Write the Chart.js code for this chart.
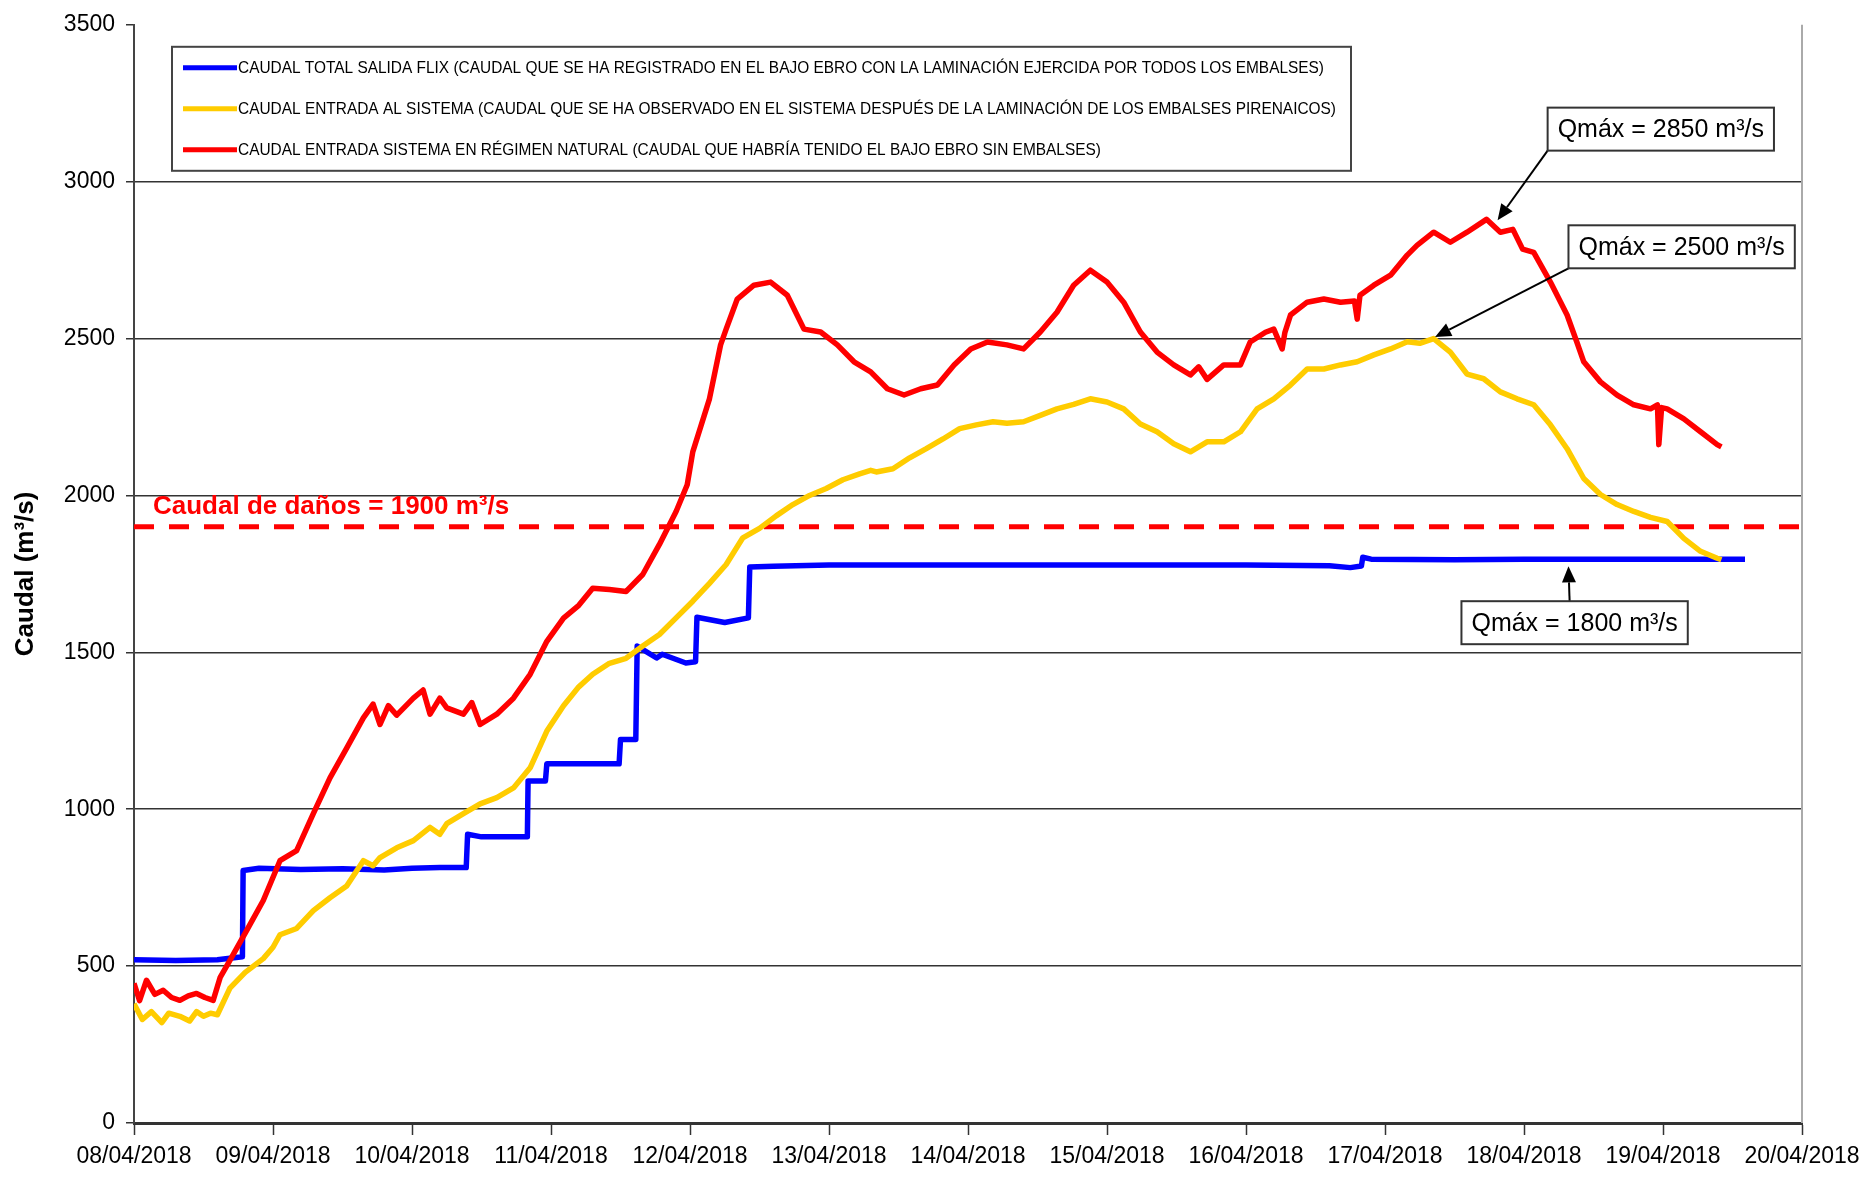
<!DOCTYPE html>
<html>
<head>
<meta charset="utf-8">
<script src="https://cdn.jsdelivr.net/npm/chart.js@4.4.0/dist/chart.umd.min.js"></script>
<style>
  html, body { margin: 0; padding: 0; background: #fff; }
</style>
</head>
<body>
<canvas id="chart" width="1873" height="1182"></canvas>
<script>
// --- DATA (x = days since 08/04/2018 00:00) ---
const dateLabels = ['08/04/2018', '09/04/2018', '10/04/2018', '11/04/2018', '12/04/2018', '13/04/2018',
  '14/04/2018', '15/04/2018', '16/04/2018', '17/04/2018', '18/04/2018', '19/04/2018', '20/04/2018'];

const seriesNames = [
  'CAUDAL TOTAL SALIDA FLIX (CAUDAL QUE SE HA REGISTRADO EN EL BAJO EBRO CON LA LAMINACIÓN EJERCIDA POR TODOS LOS EMBALSES)',
  'CAUDAL ENTRADA AL SISTEMA (CAUDAL QUE SE HA OBSERVADO EN EL SISTEMA DESPUÉS DE LA LAMINACIÓN DE LOS EMBALSES PIRENAICOS)',
  'CAUDAL ENTRADA SISTEMA EN RÉGIMEN NATURAL (CAUDAL QUE HABRÍA TENIDO EL BAJO EBRO SIN EMBALSES)'
];

const flixDays = [0, 0.3, 0.6, 0.78, 0.785, 0.9, 1.2, 1.5, 1.8, 2.0, 2.2, 2.39, 2.40, 2.5, 2.83, 2.835, 2.96, 2.97,
  3.2, 3.49, 3.50, 3.61, 3.62, 3.76, 3.8, 3.97, 4.04, 4.05, 4.25, 4.42, 4.43, 4.6, 5.0, 6.0, 7.0, 8.0, 8.6, 8.75,
  8.83, 8.84, 8.9, 9.5, 10.0, 11.0, 11.59];
const flixValues = [520, 518, 520, 530, 805, 812, 808, 810, 806, 812, 814, 814, 920, 912, 912, 1090, 1090, 1145,
  1145, 1145, 1222, 1222, 1520, 1482, 1494, 1466, 1470, 1612, 1595, 1610, 1772, 1774, 1778, 1778, 1778, 1778, 1776, 1770,
  1775, 1803, 1797, 1795, 1797, 1797, 1797];

const entradaDays = [0, 0.06, 0.125, 0.2, 0.25, 0.33, 0.4, 0.45, 0.5, 0.55, 0.6, 0.69, 0.8, 0.93, 1.0, 1.05, 1.17, 1.29,
  1.41, 1.53, 1.65, 1.72, 1.77, 1.89, 2.01, 2.13, 2.2, 2.25, 2.37, 2.49, 2.61, 2.73, 2.85, 2.97, 3.09, 3.2, 3.3, 3.42, 3.54,
  3.66, 3.78, 3.9, 4.02, 4.14, 4.26, 4.38, 4.5, 4.62, 4.74, 4.86, 4.98, 5.1, 5.22, 5.3, 5.34, 5.46, 5.58, 5.7, 5.82, 5.94,
  6.06, 6.18, 6.28, 6.4, 6.52, 6.64, 6.76, 6.88, 7.0, 7.12, 7.24, 7.36, 7.48, 7.6, 7.72, 7.84, 7.96, 8.08, 8.2,
  8.32, 8.44, 8.56, 8.68, 8.8, 8.92, 9.04, 9.16, 9.25, 9.35, 9.47, 9.59, 9.71, 9.83, 9.95, 10.07, 10.19, 10.31,
  10.43, 10.55, 10.67, 10.79, 10.91, 11.03, 11.15, 11.27, 11.39, 11.42];
const entradaValues = [380, 330, 355, 320, 350, 340, 325, 355, 340, 350, 345, 430, 480, 524, 560, 600, 620, 677,
  718, 755, 836, 820, 846, 877, 900, 942, 920, 954, 986, 1017, 1037, 1068, 1132, 1249, 1330, 1390, 1430, 1465, 1481,
  1520, 1557, 1610, 1663, 1720, 1780, 1865, 1895, 1935, 1971, 2000, 2022, 2050, 2069, 2080, 2075, 2085, 2120, 2149, 2180, 2213,
  2225, 2235, 2230, 2235, 2255, 2276, 2290, 2308, 2298, 2276, 2228, 2203, 2165, 2139, 2171, 2171, 2203, 2276, 2308,
  2352, 2403, 2403, 2416, 2426, 2448, 2467, 2490, 2485, 2500, 2457, 2387, 2372, 2330, 2308, 2289, 2225, 2149,
  2054, 2003, 1971, 1949, 1930, 1917, 1863, 1822, 1800, 1795];

const naturalDays = [0, 0.04, 0.09, 0.15, 0.21, 0.27, 0.33, 0.39, 0.45, 0.51, 0.57, 0.62, 0.69, 0.81, 0.93, 1.05,
  1.17, 1.29, 1.41, 1.53, 1.65, 1.72, 1.77, 1.83, 1.89, 2.01, 2.08, 2.13, 2.2, 2.25, 2.37, 2.43, 2.49, 2.61, 2.73, 2.85,
  2.97, 3.09, 3.2, 3.3, 3.42, 3.54, 3.66, 3.78, 3.9, 3.98, 4.02, 4.14, 4.22, 4.26, 4.34, 4.46, 4.58, 4.7, 4.82, 4.94,
  5.06, 5.18, 5.3, 5.42, 5.54, 5.66, 5.78, 5.9, 6.02, 6.14, 6.28, 6.4, 6.52, 6.64, 6.76, 6.88, 7.0, 7.12, 7.24, 7.36,
  7.48, 7.6, 7.66, 7.72, 7.84, 7.96, 8.03, 8.14, 8.2, 8.26, 8.28, 8.32, 8.44, 8.56, 8.68, 8.78, 8.8, 8.82, 8.92, 9.04,
  9.16, 9.23, 9.35, 9.47, 9.59, 9.73, 9.83, 9.92, 9.99, 10.07, 10.19, 10.31, 10.38, 10.43, 10.55, 10.67, 10.79, 10.91,
  10.96, 10.97, 10.99, 11.03, 11.15, 11.27, 11.39, 11.42];
const naturalValues = [445, 390, 455, 410, 423, 400, 391, 405, 413, 400, 391, 464, 518, 613, 709, 836,
  868, 986, 1100, 1195, 1291, 1335, 1270, 1330, 1300, 1354, 1380, 1303, 1354, 1323, 1303, 1340, 1270, 1303, 1354, 1430,
  1535, 1609, 1650, 1704, 1700, 1694, 1748, 1844, 1949, 2034, 2139, 2308, 2480, 2530, 2626, 2670, 2680, 2638, 2530, 2521,
  2480, 2426, 2394, 2340, 2320, 2340, 2352, 2416, 2467, 2489, 2480, 2467, 2521, 2584, 2670, 2718, 2680, 2616, 2521, 2457,
  2416, 2384, 2410, 2370, 2416, 2416, 2489, 2520, 2530, 2467, 2520, 2575, 2616, 2626, 2616, 2620, 2562, 2638, 2670, 2702,
  2766, 2797, 2839, 2807, 2839, 2880, 2839, 2848, 2785, 2775, 2680, 2575, 2489, 2426, 2362, 2320, 2289, 2276,
  2289, 2162, 2280, 2276, 2244, 2203, 2162, 2155];

const damageFlow = 1900;

// --- HELPERS ---
const toPoints = (days, values) => days.map((d, i) => ({ x: d, y: values[i] }));

const FONT = '"Liberation Sans", Arial, sans-serif';
Chart.defaults.font.family = FONT;
Chart.defaults.color = '#000';

// annotation boxes: tip = arrow point in data units, box = top-left corner in data units
const callouts = [
  { text: 'Qmáx = 2850 m³/s', box: { x: 10.17, y: 3236 }, tip: { x: 9.81, y: 2877 }, tail: 'bottomLeft' },
  { text: 'Qmáx = 2500 m³/s', box: { x: 10.32, y: 2861 }, tip: { x: 9.36, y: 2505 }, tail: 'bottomLeft' },
  { text: 'Qmáx = 1800 m³/s', box: { x: 9.55, y: 1663 }, tip: { x: 10.32, y: 1774 }, tail: 'topMid' }
];

function drawArrow(ctx, x1, y1, x2, y2) {
  const ang = Math.atan2(y2 - y1, x2 - x1);
  const len = 16, half = 7;
  const bx = x2 - len * Math.cos(ang), by = y2 - len * Math.sin(ang);
  ctx.beginPath();
  ctx.moveTo(x1, y1);
  ctx.lineTo(bx, by);
  ctx.stroke();
  ctx.beginPath();
  ctx.moveTo(x2, y2);
  ctx.lineTo(bx + half * Math.sin(ang), by - half * Math.cos(ang));
  ctx.lineTo(bx - half * Math.sin(ang), by + half * Math.cos(ang));
  ctx.closePath();
  ctx.fill();
}

const overlay = {
  id: 'overlay',
  afterDatasetsDraw(chart) {
    const { ctx, chartArea, scales: { x, y } } = chart;
    ctx.save();

    // right border of plot
    ctx.strokeStyle = '#aaaaaa';
    ctx.lineWidth = 2;
    ctx.beginPath();
    ctx.moveTo(chartArea.right, chartArea.top);
    ctx.lineTo(chartArea.right, chartArea.bottom);
    ctx.stroke();

    // damage label
    ctx.fillStyle = '#ff0000';
    ctx.font = 'bold 26px ' + FONT;
    ctx.textAlign = 'left';
    ctx.textBaseline = 'alphabetic';
    ctx.fillText('Caudal de daños = 1900 m³/s', chartArea.left + 19, y.getPixelForValue(damageFlow) - 13);

    // legend box
    const lx = chartArea.left + 38, ly = chartArea.top + 22, lw = 1179, lh = 124;
    ctx.fillStyle = '#fff';
    ctx.fillRect(lx, ly, lw, lh);
    ctx.strokeStyle = '#444';
    ctx.lineWidth = 2;
    ctx.strokeRect(lx, ly, lw, lh);
    const colors = ['#0000ff', '#ffcc00', '#ff0000'];
    const rows = [21, 62, 103];
    const widths = [1086, 1098, 863];
    ctx.font = '17px ' + FONT;
    ctx.textBaseline = 'middle';
    seriesNames.forEach((name, i) => {
      const yy = ly + rows[i];
      ctx.strokeStyle = colors[i];
      ctx.lineWidth = 5;
      ctx.beginPath();
      ctx.moveTo(lx + 11, yy);
      ctx.lineTo(lx + 65, yy);
      ctx.stroke();
      ctx.fillStyle = '#000';
      ctx.fillText(name, lx + 66, yy + 1, widths[i]);
    });

    // callouts
    ctx.font = '25px ' + FONT;
    callouts.forEach(c => {
      const bx = x.getPixelForValue(c.box.x), by = y.getPixelForValue(c.box.y);
      const bw = ctx.measureText(c.text).width + 20, bh = 43;
      const tx = x.getPixelForValue(c.tip.x), ty = y.getPixelForValue(c.tip.y);
      const sx = c.tail === 'bottomLeft' ? bx : bx + bw / 2 - 5;
      const sy = c.tail === 'bottomLeft' ? by + bh : by;
      ctx.strokeStyle = '#000';
      ctx.fillStyle = '#000';
      ctx.lineWidth = 2;
      drawArrow(ctx, sx, sy, tx, ty);
      ctx.fillStyle = '#fff';
      ctx.fillRect(bx, by, bw, bh);
      ctx.strokeStyle = '#333';
      ctx.lineWidth = 2;
      ctx.strokeRect(bx, by, bw, bh);
      ctx.fillStyle = '#000';
      ctx.textBaseline = 'middle';
      ctx.fillText(c.text, bx + 10, by + bh / 2 + 1);
    });

    ctx.restore();
  }
};

new Chart(document.getElementById('chart'), {
  type: 'line',
  data: {
    datasets: [
      { label: seriesNames[2], data: toPoints(naturalDays, naturalValues), borderColor: '#ff0000', borderWidth: 5.5, order: 0 },
      { label: seriesNames[1], data: toPoints(entradaDays, entradaValues), borderColor: '#ffcc00', borderWidth: 5.5, order: 1 },
      { label: seriesNames[0], data: toPoints(flixDays, flixValues), borderColor: '#0000ff', borderWidth: 5.5, order: 2 },
      { label: 'Caudal de daños', data: [{ x: 0, y: damageFlow }, { x: 12, y: damageFlow }], borderColor: '#ff0000',
        borderWidth: 5, borderDash: [20, 15], order: 3 }
    ]
  },
  options: {
    responsive: false,
    animation: false,
    devicePixelRatio: 1,
    layout: { padding: { top: 22, right: 71, bottom: 0, left: 0 } },
    elements: { point: { radius: 0 }, line: { tension: 0, fill: false, borderJoinStyle: 'round' } },
    plugins: { legend: { display: false }, tooltip: { enabled: false } },
    scales: {
      x: {
        type: 'linear', min: 0, max: 12,
        afterFit: s => { s.height = 59; },
        grid: { drawOnChartArea: false, drawTicks: true, tickLength: 12, tickColor: '#333', tickWidth: 1.5 },
        border: { color: '#333', width: 3 },
        ticks: { stepSize: 1, autoSkip: false, maxRotation: 0, padding: 8, font: { size: 23 }, color: '#000',
          callback: v => dateLabels[v] }
      },
      y: {
        min: 0, max: 3500,
        afterFit: s => { s.width = 134; },
        grid: { color: c => c.tick && c.tick.value === 3500 ? 'rgba(0,0,0,0)' : '#333', lineWidth: 1.5,
          tickLength: 8, tickColor: '#333' },
        border: { color: '#444', width: 2 },
        ticks: { stepSize: 500, padding: 11, font: { size: 23 }, color: '#000', callback: v => String(v) },
        title: { display: true, text: 'Caudal (m³/s)', font: { size: 26, weight: 'bold' }, color: '#000',
          padding: { top: 10, bottom: 0 } }
      }
    }
  },
  plugins: [overlay]
});
</script>
</body>
</html>
